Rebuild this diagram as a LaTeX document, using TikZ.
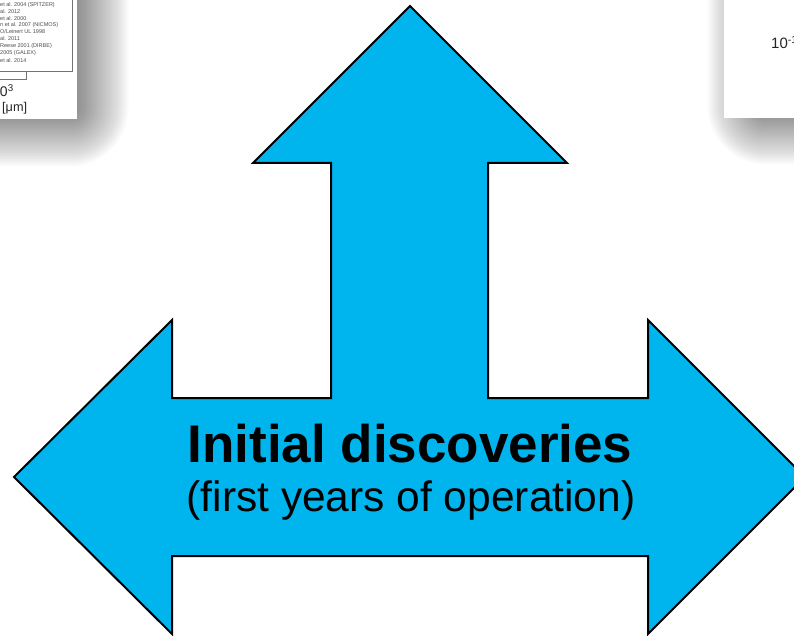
\documentclass[tikz,border=0pt]{standalone}
\usepackage{fontspec}
\setmainfont{Liberation Sans}
\begin{document}
\begin{tikzpicture}[x=1pt,y=-1pt,
  bigarrow/.style={fill=arrowblue, draw=black, line width=2pt, line join=miter},
  headline/.style={font=\fontsize{53}{60}\selectfont\bfseries, inner sep=0pt, anchor=base},
  subline/.style={font=\fontsize{42.5}{50}\selectfont, inner sep=0pt, anchor=base},
  legendtext/.style={font=\fontsize{5.5}{6.5}\selectfont, text=black!70, inner sep=0pt, anchor=west},
  axistext/.style={text=black!85, inner sep=0pt, anchor=base west},
  panel/.style={fill=white},
  shadowlayer/.style={black, opacity=0.015},
]
\definecolor{arrowblue}{RGB}{0,180,238}
\useasboundingbox (0,0) rectangle (794,636);
\clip (0,0) rectangle (794,636);

% soft drop shadows of the two slide thumbnails
\foreach \k in {0,...,39}{
  \fill[shadowlayer, rounded corners=1.5*\k]
    (-40-1.5*\k,-40-1.5*\k) rectangle (70+1.5*\k,108+1.5*\k);
}
\foreach \k in {0,...,39}{
  \fill[shadowlayer, rounded corners=1.5*\k]
    (766-1.5*\k,-40-1.5*\k) rectangle (840+1.5*\k,106+1.5*\k);
}

% left thumbnail: tail of a plot legend and the wavelength axis
\fill[panel] (0,0) rectangle (77,119);
\draw[black!55, line width=0.6pt] (-2,-2) -- (72,-2) -- (72,71) -- (-2,71);
\draw[black!55, line width=0.6pt] (-2,79) -- (26,79) -- (26,71);
\node[legendtext] (l1) at (0,5)    {et al. 2004 (SPITZER)};
\node[legendtext] (l2) at (0,11.5) {al. 2012};
\node[legendtext] (l3) at (0,18.5) {et al. 2000};
\node[legendtext] (l4) at (0,25)   {n et al. 2007 (NICMOS)};
\node[legendtext] (l5) at (0,32)   {O/Leinert UL 1998};
\node[legendtext] (l6) at (0,39)   {al. 2011};
\node[legendtext] (l7) at (0,46.5) {Reese 2001 (DIRBE)};
\node[legendtext] (l8) at (0,53.5) {2005 (GALEX)};
\node[legendtext] (l9) at (0,61)   {et al. 2014};
\node[axistext, font=\fontsize{14}{16}\selectfont] (tick) at (-8,97) {10\textsuperscript{3}};
\node[axistext, font=\fontsize{12.7}{15}\selectfont] (unit) at (2,112) {[μm]};

% right thumbnail: edge of another plot
\fill[panel] (724,0) rectangle (794,118);
\node[axistext, font=\fontsize{15}{17}\selectfont] (rtick) at (771,49) {10\textsuperscript{-1}};

% three-way arrow
\draw[bigarrow]
  (14,477) -- (172,320) -- (172,398) -- (331,398) -- (331,163) -- (253,163)
  -- (410,6) -- (567,163) -- (488,163) -- (488,398) -- (648,398) -- (648,320)
  -- (805,477) -- (648,634) -- (648,556) -- (172,556) -- (172,634) -- cycle;

\node[headline] (title) at (410,462) {Initial discoveries};
\node[subline] (sub) at (411,511) {(first years of operation)};
\end{tikzpicture}
\end{document}
